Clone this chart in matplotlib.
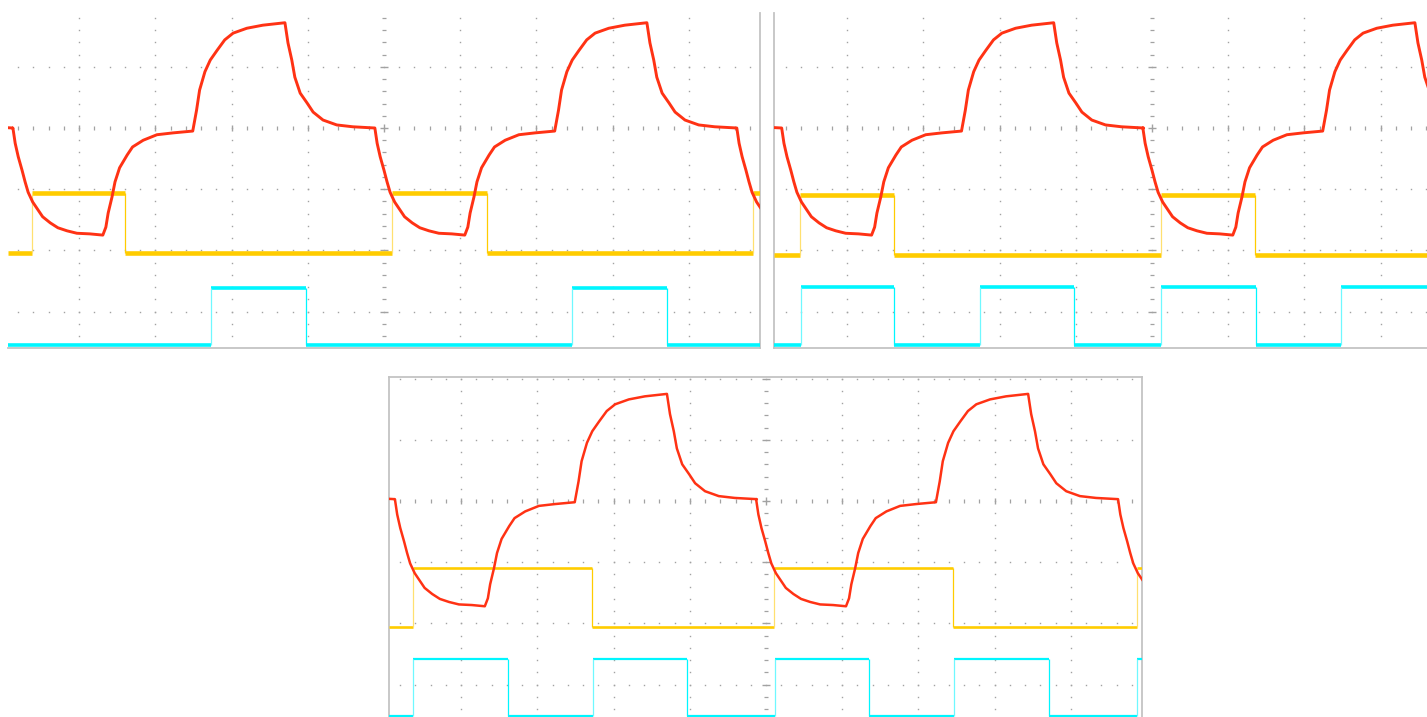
import numpy as np
import matplotlib
matplotlib.use('Agg')
import matplotlib.pyplot as plt

# ---------------- data (scope divisions, measured from screen centre) ----------------
# one period of the red trace (time offset from the start of the falling part, value)
red_cycle_t = [0, 0.03, 0.07, 0.12, 0.16, 0.20, 0.26, 0.33, 0.39, 0.49, 0.59, 0.71, 0.84, 1.01, 1.18,
               1.22, 1.25, 1.30, 1.34, 1.40, 1.50, 1.57, 1.71, 1.89, 2.10, 2.36,
               2.41, 2.45, 2.52, 2.59, 2.68, 2.78, 2.89, 3.07, 3.28, 3.57,
               3.61, 3.66, 3.70, 3.77, 3.86, 3.94, 4.07, 4.25, 4.46, 4.75]
red_cycle_v = [0, -0.25, -0.47, -0.69, -0.88, -1.05, -1.21, -1.34, -1.45, -1.55, -1.63, -1.68, -1.72, -1.73, -1.75,
               -1.62, -1.39, -1.13, -0.88, -0.65, -0.44, -0.31, -0.20, -0.11, -0.08, -0.05,
               0.29, 0.62, 0.92, 1.11, 1.27, 1.44, 1.55, 1.63, 1.68, 1.72,
               1.39, 1.11, 0.83, 0.57, 0.41, 0.26, 0.13, 0.05, 0.02, 0]

red_starts_A = [-9.62, -4.87, -0.12, 4.63]
red_starts_B = [-9.62, -4.86, -0.12, 4.63]
red_starts_C = [-9.62, -4.87, -0.13, 4.62]
red_offset_A = 0.0
red_offset_B = 0.0
red_offset_C = 0.03

yellow_edges_A = [-4.62, -3.40, 0.10, 1.35, 4.84]
yellow_edges_B = [-4.62, -3.39, 0.12, 1.35]
yellow_edges_C = [-4.63, -2.28, 0.10, 2.45, 4.87]
yellow_levels_A = (-2.04, -1.06)
yellow_levels_B = (-2.08, -1.09)
yellow_levels_C = (-2.06, -1.09)

cyan_edges_A = [-2.27, -1.02, 2.47, 3.71]
cyan_edges_B = [-4.61, -3.39, -2.26, -1.02, 0.12, 1.36, 2.48]
cyan_edges_C = [-4.63, -3.39, -2.27, -1.04, 0.12, 1.35, 2.47, 3.71, 4.87]
cyan_levels_A = (-3.55, -2.61)
cyan_levels_B = (-3.55, -2.60)
cyan_levels_C = (-3.51, -2.58)

# ---------------- layout (pixels) ----------------
W, H = 1427, 717
DIVX, DIVY = 76.2, 61.2
RED, YEL, YEL_RISE, CYAN = '#ff3214', '#ffcc00', '#ffe070', '#00f6ff'
GRID = '#a2a2a2'
BORDER = '#c4c4c4'

panels = [
    dict(box=(8, 760, 13, 348), centre=(384, 128), spines=('right', 'bottom'),
         red=red_starts_A, roff=red_offset_A, ye=yellow_edges_A, yl=yellow_levels_A,
         ce=cyan_edges_A, cl=cyan_levels_A, thick=True),
    dict(box=(774, 1427, 13, 348), centre=(1152, 128), spines=('left', 'bottom'),
         red=red_starts_B, roff=red_offset_B, ye=yellow_edges_B, yl=yellow_levels_B,
         ce=cyan_edges_B, cl=cyan_levels_B, thick=True),
    dict(box=(389, 1142, 377, 717), centre=(766, 501), spines=('left', 'top', 'right'),
         red=red_starts_C, roff=red_offset_C, ye=yellow_edges_C, yl=yellow_levels_C,
         ce=cyan_edges_C, cl=cyan_levels_C, thick=False),
]

fig = plt.figure(figsize=(W / 100, H / 100), dpi=100)
fig.patch.set_facecolor('white')


def draw_step(ax, edges, levels, x0, x1, color, rise_color, band_lw, edge_lw):
    lo, hi = levels
    bounds = [x0] + list(edges) + [x1]
    level = lo
    for i in range(len(bounds) - 1):
        ax.hlines(level, bounds[i], bounds[i + 1], colors=color, lw=band_lw, zorder=4)
        level = hi if level == lo else lo
    for j, e in enumerate(edges):
        c = rise_color if j % 2 == 0 else color
        ax.vlines(e, lo, hi, colors=c, lw=edge_lw, zorder=4)


for p in panels:
    l, r, t, b = p['box']
    cx, cy = p['centre']
    ax = fig.add_axes([l / W, 1 - b / H, (r - l) / W, (b - t) / H])
    x0, x1 = (l - cx) / DIVX, (r - cx) / DIVX
    y0, y1 = (cy - b) / DIVY, (cy - t) / DIVY
    ax.set_xlim(x0, x1)
    ax.set_ylim(y0, y1)
    ax.set_xticks([])
    ax.set_yticks([])
    ax.set_facecolor('white')
    for s in ax.spines.values():
        s.set_visible(False)
    for s in p['spines']:
        ax.spines[s].set_visible(True)
        ax.spines[s].set_color(BORDER)
        ax.spines[s].set_linewidth(1.3)

    # ---- graticule ----
    fine_x = np.round(np.arange(np.ceil(x0 / 0.2) * 0.2, x1, 0.2), 2)
    fine_y = np.round(np.arange(np.ceil(y0 / 0.2) * 0.2, y1, 0.2), 2)
    major_x = [k for k in range(int(np.ceil(x0)), int(np.floor(x1)) + 1) if k != 0]
    major_y = [k for k in range(int(np.ceil(y0)), int(np.floor(y1)) + 1) if k != 0]
    for k in major_x:
        ax.plot(np.full(len(fine_y), k), fine_y, ls='none', marker='s', ms=1.0,
                mew=0, color=GRID, zorder=1)
    for k in major_y:
        ax.plot(fine_x, np.full(len(fine_x), k), ls='none', marker='s', ms=1.0,
                mew=0, color=GRID, zorder=1)
    # centre axes with ticks
    minor_y = [v for v in fine_y if abs(v - round(v)) > 1e-6]
    minor_x = [v for v in fine_x if abs(v - round(v)) > 1e-6]
    ax.plot(np.zeros(len(minor_y)), minor_y, ls='none', marker='_', ms=3.0, mew=0.9,
            color=GRID, zorder=1)
    ax.plot(np.zeros(len(major_y)), major_y, ls='none', marker='_', ms=5.5, mew=1.0,
            color=GRID, zorder=1)
    ax.plot(minor_x, np.zeros(len(minor_x)), ls='none', marker='|', ms=2.2, mew=0.9,
            color=GRID, zorder=1)
    ax.plot(major_x, np.zeros(len(major_x)), ls='none', marker='|', ms=4.5, mew=1.0,
            color=GRID, zorder=1)
    ax.plot([0], [0], ls='none', marker='+', ms=6, mew=1.0, color=GRID, zorder=1)

    # ---- traces ----
    thick = p['thick']
    draw_step(ax, p['ce'], p['cl'], x0, x1, CYAN, '#6ff8ff',
              2.6 if thick else 1.6, 0.9)
    draw_step(ax, p['ye'], p['yl'], x0, x1, YEL, YEL_RISE,
              3.3 if thick else 1.9, 0.9)

    rt, rv = [], []
    for s in p['red']:
        rt.extend(np.array(red_cycle_t) + s)
        rv.extend(np.array(red_cycle_v) + p['roff'])
    rt = np.array(rt)
    rv = np.array(rv)
    ax.plot(rt, rv, color=RED, lw=2.1 if thick else 1.8, solid_joinstyle='round',
            zorder=5)

fig.savefig('out.png', dpi=100, facecolor='white')
